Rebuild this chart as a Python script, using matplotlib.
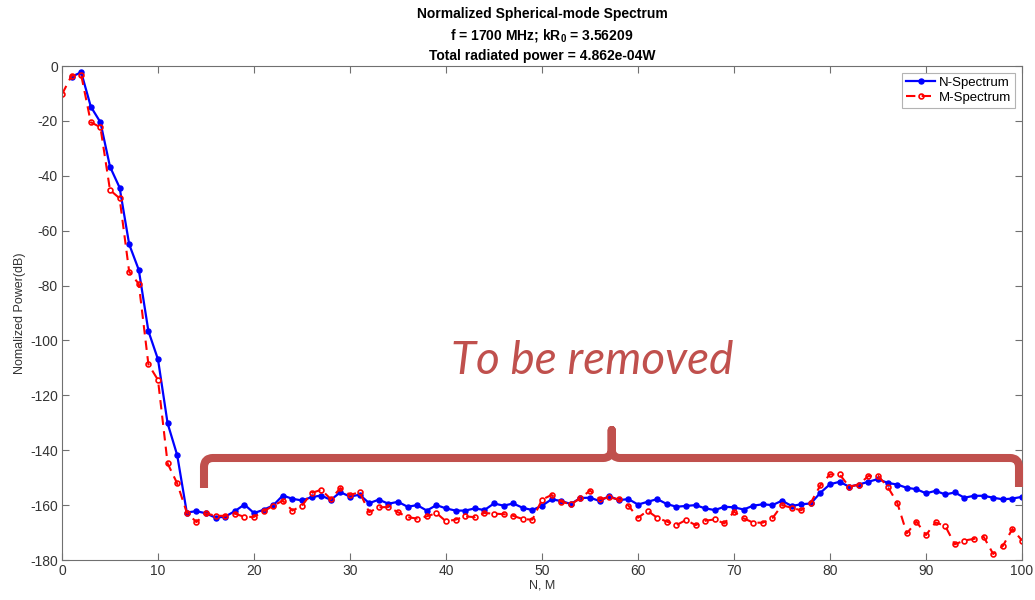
import matplotlib.pyplot as plt
import matplotlib.path as mpath
import matplotlib.patches as patches
import numpy as np

# --- spectrum data (dB, normalized) ---
n_modes = np.arange(1, 101)
n_power = [
    -3.9, -2.3, -14.8, -20.5, -36.7, -44.3, -65.0, -74.3, -96.6, -106.9,
    -130.2, -141.8, -162.7, -162.2, -163.0, -164.6, -164.2, -162.2, -159.8, -162.9,
    -161.7, -160.1, -156.5, -157.7, -158.3, -157.1, -156.5, -158.1, -155.3, -156.9,
    -156.2, -159.3, -158.0, -159.5, -158.8, -160.6, -160.0, -162.0, -160.0, -161.2,
    -162.0, -162.0, -161.2, -161.8, -159.4, -160.2, -159.4, -161.0, -161.8, -160.2,
    -157.9, -158.5, -159.6, -157.4, -157.3, -158.5, -156.7, -158.2, -157.8, -159.8,
    -158.8, -157.8, -159.6, -160.6, -160.3, -160.0, -161.2, -161.8, -160.6, -160.8,
    -161.6, -160.2, -159.7, -160.0, -158.4, -160.3, -159.7, -159.4, -155.5, -152.4,
    -151.5, -153.3, -152.5, -151.5, -150.5, -151.9, -152.5, -153.7, -154.2, -155.7,
    -154.8, -156.1, -155.4, -157.3, -156.6, -156.6, -157.3, -157.9, -157.6, -157.0,
]

m_modes = np.arange(0, 101)
m_power = [
    -10.3,
    -3.5, -3.3, -20.5, -22.3, -45.2, -48.2, -75.0, -79.4, -108.7, -114.4,
    -144.8, -152.1, -162.7, -166.2, -163.0, -163.9, -163.9, -163.1, -164.3, -164.3,
    -162.3, -160.2, -158.4, -162.0, -160.2, -155.6, -154.4, -157.8, -153.8, -156.3,
    -155.3, -162.6, -160.8, -160.7, -162.6, -164.4, -164.9, -164.1, -162.9, -165.9,
    -165.3, -164.1, -164.4, -162.9, -163.1, -163.3, -163.9, -165.1, -165.3, -158.0,
    -156.3, -158.7, -159.7, -157.5, -154.7, -157.8, -157.2, -157.9, -160.2, -164.6,
    -162.1, -164.6, -166.0, -167.3, -165.4, -167.3, -165.7, -165.2, -166.7, -162.4,
    -164.8, -166.4, -166.4, -164.8, -160.0, -161.0, -161.9, -159.1, -152.8, -148.8,
    -148.8, -153.3, -152.5, -149.4, -149.3, -153.3, -159.1, -170.3, -166.0, -170.9,
    -166.3, -167.6, -174.3, -172.9, -172.3, -171.5, -177.8, -174.9, -168.7, -172.9,
]

x_ticks = np.arange(0, 101, 10)
y_ticks = np.arange(-180, 1, 20)

plt.rcParams["font.family"] = ["Liberation Sans", "DejaVu Sans"]
plt.rcParams["axes.unicode_minus"] = False

W, H = 1035, 600
fig = plt.figure(figsize=(W / 100, H / 100), dpi=100)
ax = fig.add_axes([62 / W, 40 / H, 960 / W, 494 / H])

ax.plot(n_modes, n_power, color="#0000FF", lw=1.6, marker="o", ms=3.6,
        mec="#0000FF", mfc="#0000FF", label="N-Spectrum")
ax.plot(m_modes, m_power, color="#FF0000", lw=1.5, ls=(0, (4.5, 3)),
        marker="o", ms=3.5, mew=1.2, mec="#FF0000", mfc="none",
        label="M-Spectrum")

ax.set_xlim(0, 100)
ax.set_ylim(-180, 0)
ax.set_xticks(x_ticks)
ax.set_yticks(y_ticks)
axis_gray = "#707070"
for s in ax.spines.values():
    s.set_color(axis_gray)
    s.set_linewidth(0.8)
ax.tick_params(direction="in", top=True, right=True, length=5, width=0.8,
               color=axis_gray, labelcolor="#333333", labelsize=10, pad=3)
ax.set_xlabel("N, M", fontsize=9, color="#333333", labelpad=1)
ax.set_ylabel("Nomalized Power(dB)", fontsize=9, color="#333333", labelpad=3)

leg = ax.legend(loc="upper right", fontsize=9.5, frameon=True, fancybox=False,
                borderaxespad=0.5, handlelength=2.2, handletextpad=0.3,
                borderpad=0.3, labelspacing=0.2)
leg.get_frame().set_edgecolor("#a0a0a0")
leg.get_frame().set_linewidth(0.8)

# three-line heading
cx = (62 + 1022) / 2 / W
title_kw = dict(ha="center", va="center", fontsize=10, fontweight="bold", color="black")
fig.text(cx, 1 - 14 / H, "Normalized Spherical-mode Spectrum", **title_kw)
fig.text(cx, 1 - 35 / H, r"f = 1700 MHz; kR$_{\mathregular{0}}$ = 3.56209", **title_kw)
fig.text(cx, 1 - 56 / H, "Total radiated power = 4.862e-04W", **title_kw)

# curly bracket over the tail region, drawn in pixel space
mark = "#C0504D"
def px(x, y):
    return (x / W, 1 - y / H)

P = mpath.Path
brace_pts = [
    (px(204, 488), P.MOVETO),
    (px(204, 467), P.LINETO),
    (px(204, 458), P.CURVE3),
    (px(213, 458), P.CURVE3),
    (px(603, 458), P.LINETO),
    (px(611.7, 458), P.CURVE3),
    (px(611.7, 449), P.CURVE3),
    (px(611.7, 430), P.LINETO),
    (px(611.7, 449), P.LINETO),
    (px(611.7, 458), P.CURVE3),
    (px(620, 458), P.CURVE3),
    (px(1010, 458), P.LINETO),
    (px(1019, 458), P.CURVE3),
    (px(1019, 467), P.CURVE3),
    (px(1019, 487), P.LINETO),
]
verts, codes = zip(*brace_pts)
brace = patches.PathPatch(mpath.Path(verts, codes), transform=fig.transFigure,
                          facecolor="none", edgecolor=mark, lw=5.8,
                          capstyle="butt", joinstyle="round")
fig.patches.append(brace)

fig.text(592 / W, 1 - 374 / H, "To be removed", ha="center", va="baseline",
         fontsize=33, style="italic", color=mark, family=["Lato", "DejaVu Sans"])

fig.savefig("out.png", dpi=100)
